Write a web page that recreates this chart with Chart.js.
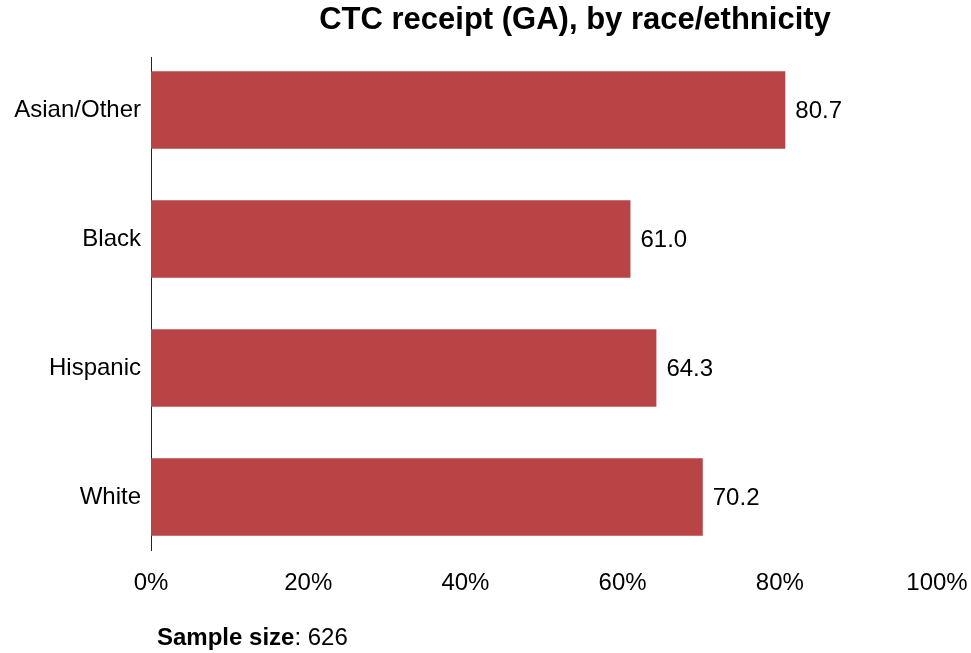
<!DOCTYPE html>
<html>
<head>
<meta charset="utf-8">
<script src="https://cdn.jsdelivr.net/npm/chart.js@4"></script>
<style>
html,body{margin:0;padding:0;background:#fff;}
#wrap{position:relative;width:971px;height:653px;}
canvas{display:block;}
</style>
</head>
<body>
<div id="wrap"><canvas id="c" width="971" height="653"></canvas></div>
<script>
const categories = ["Asian/Other", "Black", "Hispanic", "White"];
const values = [80.7, 61.0, 64.3, 70.2];
const xTickLabels = ["0%", "20%", "40%", "60%", "80%", "100%"];
const titleText = "CTC receipt (GA), by race/ethnicity";
const sampleLabel = "Sample size";
const sampleValue = "626";

const FONT = "'Liberation Sans', Arial, sans-serif";
const BAR_COLOR = "#B94446";

const points = categories.map((c, i) => ({ y: i, x: values[i] }));

const labelPlugin = {
  id: 'valueLabels',
  afterDatasetsDraw(chart) {
    const ctx = chart.ctx;
    const meta = chart.getDatasetMeta(0);
    ctx.save();
    ctx.font = "24px " + FONT;
    ctx.fillStyle = "#000";
    ctx.textAlign = "left";
    ctx.textBaseline = "middle";
    meta.data.forEach((el, i) => {
      ctx.fillText(values[i].toFixed(1), el.x + 10, el.y + 1);
    });
    ctx.restore();
  }
};

const textPlugin = {
  id: 'extraText',
  afterDraw(chart) {
    const ctx = chart.ctx;
    ctx.save();
    ctx.fillStyle = "#000";
    ctx.textBaseline = "middle";
    ctx.textAlign = "center";
    ctx.font = "bold 31px " + FONT;
    ctx.fillText(titleText, 575, 20);
    ctx.textAlign = "left";
    ctx.font = "bold 24px " + FONT;
    ctx.fillText(sampleLabel, 157, 638);
    const w = ctx.measureText(sampleLabel).width;
    ctx.font = "24px " + FONT;
    ctx.fillText(": " + sampleValue, 157 + w, 638);
    ctx.restore();
  }
};

new Chart(document.getElementById('c'), {
  type: 'bar',
  data: {
    datasets: [{
      data: points,
      backgroundColor: BAR_COLOR,
      borderWidth: 0,
      barPercentage: 0.6,
      categoryPercentage: 1.0
    }]
  },
  options: {
    indexAxis: 'y',
    responsive: false,
    animation: false,
    devicePixelRatio: 1,
    layout: { padding: { top: 57, right: 34, left: 0, bottom: 0 } },
    plugins: {
      legend: { display: false },
      tooltip: { enabled: false },
      title: { display: false }
    },
    scales: {
      x: {
        type: 'linear',
        min: 0,
        max: 100,
        position: 'bottom',
        afterBuildTicks(scale) {
          scale.ticks = xTickLabels.map((t, i) => ({ value: i * 20 }));
        },
        afterFit(scale) {
          scale.height = 103;
          scale.paddingLeft = 0;
          scale.paddingRight = 0;
        },
        grid: { display: false, drawTicks: false },
        border: { display: false },
        ticks: {
          padding: 19,
          color: "#000",
          font: { family: FONT, size: 24 },
          maxRotation: 0,
          autoSkip: false,
          callback: (v, i) => xTickLabels[i]
        }
      },
      y: {
        type: 'linear',
        offset: false,
        min: -0.41,
        max: categories.length - 1 + 0.41,
        reverse: true,
        afterBuildTicks(scale) {
          scale.ticks = categories.map((c, i) => ({ value: i }));
        },
        afterFit(scale) { scale.width = 151; },
        grid: { display: false, drawTicks: false },
        border: { display: true, color: "#222", width: 1 },
        ticks: {
          padding: 10,
          color: "#000",
          font: { family: FONT, size: 24 },
          autoSkip: false,
          callback: (v) => categories[v]
        }
      }
    }
  },
  plugins: [labelPlugin, textPlugin]
});
</script>
</body>
</html>
